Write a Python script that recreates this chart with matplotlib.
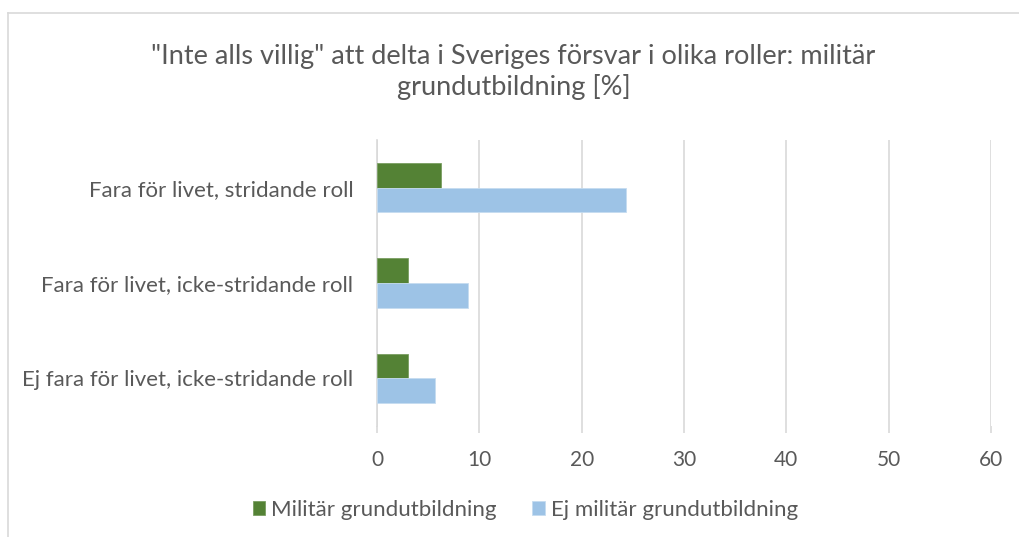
import matplotlib
matplotlib.use("Agg")
import matplotlib.pyplot as plt
import numpy as np
from matplotlib.lines import Line2D

categories = ["Fara för livet, stridande roll",
              "Fara för livet, icke-stridande roll",
              "Ej fara för livet, icke-stridande roll"]
militar = [6.3, 3.0, 3.0]
ej_militar = [24.3, 8.9, 5.7]
series_names = ["Militär grundutbildning", "Ej militär grundutbildning"]
xticks = [0, 10, 20, 30, 40, 50, 60]
title = "\"Inte alls villig\" att delta i Sveriges försvar i olika roller: militär\ngrundutbildning [%]"

plt.rcParams['font.family'] = ['Lato', 'DejaVu Sans']
text_col = "#595959"
green = "#548235"
blue = "#9DC3E6"

fig = plt.figure(figsize=(10.19, 5.37), dpi=100)
# chart-area border (left and top edges visible)
fig.add_artist(Line2D([7.5/1019, 7.5/1019], [0, 1 - 13/537], transform=fig.transFigure,
                      color="#d9d9d9", linewidth=1.2))
fig.add_artist(Line2D([7.5/1019, 1], [1 - 13/537, 1 - 13/537], transform=fig.transFigure,
                      color="#d9d9d9", linewidth=1.2))

ax = fig.add_axes([377/1019, 1 - 426/537, (991 - 377)/1019, (426 - 140)/537])

y = np.arange(len(categories))
h = 0.26
ax.barh(y - h/2, militar, height=h, color=green, edgecolor="#7a9e62", linewidth=0.6,
        label=series_names[0], zorder=3)
ax.barh(y + h/2, ej_militar, height=h, color=blue, edgecolor="#c5dcf0", linewidth=0.6,
        label=series_names[1], zorder=3)

ax.set_ylim(-0.5, len(categories) - 0.5)
ax.invert_yaxis()
ax.set_xlim(0, 60)
ax.set_xticks(xticks)
ax.set_xticklabels([str(t) for t in xticks])
ax.set_yticks(y)
ax.set_yticklabels(categories)
ax.grid(axis="x", color="#d9d9d9", linewidth=1.2, zorder=0)
for s in ["top", "right", "bottom"]:
    ax.spines[s].set_visible(False)
ax.spines["left"].set_color("#d9d9d9")
ax.spines["left"].set_linewidth(1.2)
ax.tick_params(axis="x", length=5, color="#d9d9d9", width=1.2, pad=12,
               labelsize=15, labelcolor=text_col)
ax.tick_params(axis="y", length=0, pad=17, labelsize=16, labelcolor=text_col)

fig.text(0.5 + 4/1019, 1 - 72/537, title, ha="center", va="center", fontsize=19.5,
         color=text_col, linespacing=1.2)

fig.legend(loc="center", bbox_to_anchor=(0.5 + 16/1019, 1 - 510/537), ncol=2, frameon=False,
           fontsize=16, labelcolor=text_col, handlelength=0.55, handleheight=0.55,
           handletextpad=0.3, columnspacing=1.6)

fig.savefig("out.png", dpi=100)
